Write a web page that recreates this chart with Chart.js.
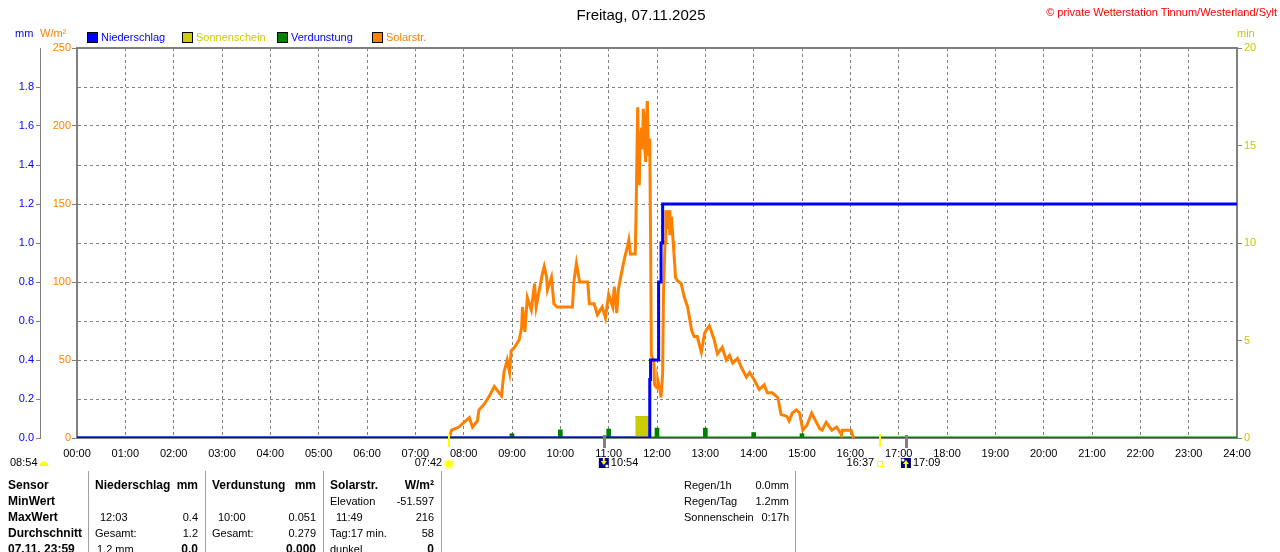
<!DOCTYPE html>
<html><head><meta charset="utf-8">
<script src="https://cdn.jsdelivr.net/npm/chart.js@4.4.1/dist/chart.umd.min.js"></script>
<style>
html,body{margin:0;padding:0;background:#fff;}
#wrap{position:relative;width:1280px;height:552px;overflow:hidden;font-family:"Liberation Sans",Arial,sans-serif;color:#000;}
#c{position:absolute;left:0;top:0;}
.t{position:absolute;white-space:nowrap;font-size:11px;line-height:14px;}
.b{font-weight:bold;font-size:12px;}
.vl{position:absolute;width:1px;background:#a0a0a0;top:471px;height:81px;}
.sq{position:absolute;width:9px;height:9px;border:1px solid #000;top:32px;}
</style></head><body>
<div id="wrap">
<canvas id="c" width="1280" height="552"></canvas>

<div class="t" style="left:541px;width:200px;text-align:center;top:6px;font-size:15px;line-height:17px;">Freitag, 07.11.2025</div>
<div class="t" style="right:3px;top:5px;color:#ff0000;">© private Wetterstation Tinnum/Westerland/Sylt</div>

<div class="t" style="left:15px;top:26px;color:#0000ff;">mm</div>
<div class="t" style="left:40px;top:26px;color:#ff8000;">W/m²</div>
<div class="t" style="left:1237px;top:26px;color:#c8c800;">min</div>

<div class="sq" style="left:87px;background:#0000ff;"></div>
<div class="t" style="left:101px;top:30px;color:#0000ff;">Niederschlag</div>
<div class="sq" style="left:182px;background:#cccc00;"></div>
<div class="t" style="left:196px;top:30px;color:#cccc00;">Sonnenschein</div>
<div class="sq" style="left:277px;background:#008000;"></div>
<div class="t" style="left:291px;top:30px;color:#0000ff;">Verdunstung</div>
<div class="sq" style="left:372px;background:#ff8000;"></div>
<div class="t" style="left:386px;top:30px;color:#ff8000;">Solarstr.</div>

<div class="vl" style="left:88px;"></div>
<div class="vl" style="left:205px;"></div>
<div class="vl" style="left:323px;"></div>
<div class="vl" style="left:441px;"></div>
<div class="vl" style="left:795px;"></div>

<div class="t b" style="left:8px;top:478px;">Sensor</div>
<div class="t b" style="left:8px;top:494px;">MinWert</div>
<div class="t b" style="left:8px;top:510px;">MaxWert</div>
<div class="t b" style="left:8px;top:526px;">Durchschnitt</div>
<div class="t b" style="left:8px;top:542px;">07.11. 23:59</div>

<div class="t b" style="left:95px;top:478px;">Niederschlag</div>
<div class="t b" style="right:1082px;top:478px;">mm</div>
<div class="t" style="left:100px;top:510px;">12:03</div>
<div class="t" style="right:1082px;top:510px;">0.4</div>
<div class="t" style="left:95px;top:526px;">Gesamt:</div>
<div class="t" style="right:1082px;top:526px;">1.2</div>
<div class="t" style="left:97px;top:542px;">1.2 mm</div>
<div class="t b" style="right:1082px;top:542px;">0.0</div>

<div class="t b" style="left:212px;top:478px;">Verdunstung</div>
<div class="t b" style="right:964px;top:478px;">mm</div>
<div class="t" style="left:218px;top:510px;">10:00</div>
<div class="t" style="right:964px;top:510px;">0.051</div>
<div class="t" style="left:212px;top:526px;">Gesamt:</div>
<div class="t" style="right:964px;top:526px;">0.279</div>
<div class="t b" style="right:964px;top:542px;">0.000</div>

<div class="t b" style="left:330px;top:478px;">Solarstr.</div>
<div class="t b" style="right:846px;top:478px;">W/m²</div>
<div class="t" style="left:330px;top:494px;">Elevation</div>
<div class="t" style="right:846px;top:494px;">-51.597</div>
<div class="t" style="left:336px;top:510px;">11:49</div>
<div class="t" style="right:846px;top:510px;">216</div>
<div class="t" style="left:330px;top:526px;">Tag:17 min.</div>
<div class="t" style="right:846px;top:526px;">58</div>
<div class="t" style="left:330px;top:542px;">dunkel</div>
<div class="t b" style="right:846px;top:542px;">0</div>

<div class="t" style="left:684px;top:478px;">Regen/1h</div>
<div class="t" style="right:491px;top:478px;">0.0mm</div>
<div class="t" style="left:684px;top:494px;">Regen/Tag</div>
<div class="t" style="right:491px;top:494px;">1.2mm</div>
<div class="t" style="left:684px;top:510px;">Sonnenschein</div>
<div class="t" style="right:491px;top:510px;">0:17h</div>
</div>

<script>
// ---- data ----
const hourLabels = ['00:00','01:00','02:00','03:00','04:00','05:00','06:00','07:00','08:00','09:00','10:00','11:00','12:00','13:00','14:00','15:00','16:00','17:00','18:00','19:00','20:00','21:00','22:00','23:00','24:00'];

// Solar radiation (minutes of day, W/m²)
const solarTime = [462,465,474,487,491,497,499,506,512,518,527,530,534,537,539,543,549,552,553,556,559,564,568,570,574,578,580,583,584,589,592,596,600,615,617,620,624,634,636,642,646,652,656,660,665,667,670,672,676,680,683,685,687,693,694,696,697,698,699,701,702,703,705,706,707,708,709,710,711,712,713,716,717,720,721,724,725,727,728,730,731,733,735,736,738,740,741,743,745,750,754,758,763,766,770,775,779,781,785,791,795,801,806,810,814,820,825,831,835,841,847,853,857,863,870,874,881,884,888,893,897,901,906,912,915,922,925,930,937,943,949,950,961,964];
const solarValue = [0,5,7,13,7,11,18,22,27,33,27,42,50,42,56,58,63,71,84,68,90,82,99,84,95,106,110,103,95,103,86,84,84,84,101,112,100,100,86,86,79,84,77,92,84,97,80,95,106,116,122,127,118,118,143,212,175,162,190,199,185,211,185,177,205,216,190,181,192,130,53,49,34,32,37,30,26,41,92,126,146,134,146,130,142,126,119,103,101,99,90,84,69,65,65,55,67,69,72,63,54,58,50,53,48,51,45,39,42,37,31,34,29,29,26,15,14,11,16,18,16,5,8,16,13,6,5,10,5,7,2,5,5,0];

// Precipitation, cumulative (minutes, mm)
const rainTime  = [0, 711, 712, 722, 725, 727, 1440];
const rainTotal = [0, 0.3, 0.4, 0.8, 1.0, 1.2, 1.2];

// Evaporation per hour (minutes, mm)
const evapTime  = [540, 600, 660, 720, 780, 840, 900];
const evapValue = [0.022, 0.042, 0.046, 0.051, 0.051, 0.028, 0.022];
const evapBaseTime  = [0, 1440];
const evapBaseValue = [0, 0];

// Sunshine (minutes, min)
const sunTime  = [693, 710];
const sunValue = [1.1, 1.1];

// Axis ticks
const mmMax = 2.0, mmStep = 0.2;
const wMax = 250, wStep = 50;
const minMax = 20, minStep = 5;

// Astronomy (minutes of day)
const sunriseMin = 462, sunsetMin = 997, moonriseMin = 654, moonsetMin = 1029;
const dayLengthLabel = '08:54';
const sunriseLabel = '07:42', sunsetLabel = '16:37', moonriseLabel = '10:54', moonsetLabel = '17:09';

const pts = (xs, ys) => xs.map((x, i) => ({x, y: ys[i]}));
const FONT = '"Liberation Sans", Arial, sans-serif';
const GRID = '#808080';

const framePlugin = {
  id: 'frame',
  beforeDatasetsDraw(chart) {
    const {ctx, chartArea: a} = chart;
    ctx.save();
    ctx.strokeStyle = GRID; ctx.lineWidth = 2;
    ctx.strokeRect(a.left, a.top, a.right - a.left, a.bottom - a.top);
    ctx.restore();
  }
};

function moonIcon(ctx, cx, cy, up) {
  ctx.fillStyle = '#000080';
  ctx.fillRect(cx - 5, cy - 5, 10, 10);
  ctx.fillStyle = '#ffff00';
  ctx.beginPath();
  if (up) { ctx.moveTo(cx, cy - 3); ctx.lineTo(cx - 3, cy + 1); ctx.lineTo(cx + 3, cy + 1); }
  else { ctx.moveTo(cx, cy + 2); ctx.lineTo(cx - 3, cy - 2); ctx.lineTo(cx + 3, cy - 2); }
  ctx.closePath(); ctx.fill();
  ctx.fillRect(cx - 1, up ? cy : cy - 5, 2, 5);
  ctx.fillStyle = '#ffffff';
  ctx.beginPath(); ctx.arc(up ? cx - 3 : cx + 3, up ? cy - 3 : cy + 3, 1.6, 0, Math.PI * 2); ctx.fill();
}

const astroPlugin = {
  id: 'astro',
  afterDraw(chart) {
    const {ctx, chartArea: a} = chart;
    const xs = chart.scales.x;
    const b = a.bottom;
    const ty = b + 27;
    ctx.save();
    [sunriseMin, sunsetMin].forEach(t => {
      const x = Math.round(xs.getPixelForValue(t));
      ctx.fillStyle = '#ffff00'; ctx.fillRect(x - 1, b - 4, 2, 13);
    });
    [moonriseMin, moonsetMin].forEach(t => {
      const x = Math.round(xs.getPixelForValue(t));
      ctx.fillStyle = '#808080'; ctx.fillRect(x - 1, b - 3, 3, 13);
    });
    ctx.font = '11px ' + FONT;
    ctx.textBaseline = 'middle';
    ctx.fillStyle = '#000';
    ctx.textAlign = 'left';
    ctx.fillText(dayLengthLabel, 10, ty - 2);
    ctx.fillStyle = '#ffff00';
    ctx.beginPath(); ctx.arc(44, ty + 1, 4.5, Math.PI, 0); ctx.closePath(); ctx.fill();
    let x = xs.getPixelForValue(sunriseMin);
    ctx.fillStyle = '#000'; ctx.textAlign = 'right';
    ctx.fillText(sunriseLabel, x - 7, ty - 2);
    ctx.fillStyle = '#ffffb0';
    ctx.beginPath(); ctx.arc(x, ty - 1, 5.5, 0, Math.PI * 2); ctx.fill();
    ctx.fillStyle = '#ffff00';
    ctx.beginPath(); ctx.arc(x, ty - 1, 3.5, 0, Math.PI * 2); ctx.fill();
    x = xs.getPixelForValue(moonriseMin);
    moonIcon(ctx, x, ty - 2, false);
    ctx.fillStyle = '#000'; ctx.textAlign = 'left';
    ctx.fillText(moonriseLabel, x + 7, ty - 2);
    x = xs.getPixelForValue(sunsetMin);
    ctx.textAlign = 'right';
    ctx.fillText(sunsetLabel, x - 6, ty - 2);
    ctx.strokeStyle = '#ffff00'; ctx.lineWidth = 1;
    ctx.strokeRect(Math.round(x) - 2.5, ty - 3.5, 5, 5);
    x = xs.getPixelForValue(moonsetMin);
    moonIcon(ctx, x, ty - 2, true);
    ctx.fillStyle = '#000'; ctx.textAlign = 'left';
    ctx.fillText(moonsetLabel, x + 7, ty - 2);
    ctx.restore();
  }
};

new Chart(document.getElementById('c'), {
  data: {
    datasets: [
      { type: 'line', label: 'Niederschlag', data: pts(rainTime, rainTotal), yAxisID: 'yMM',
        borderColor: '#0000ff', borderWidth: 3, pointRadius: 0, stepped: 'before', order: 0 },
      { type: 'line', label: 'Solarstr.', data: pts(solarTime, solarValue), yAxisID: 'yW',
        borderColor: '#ff8000', borderWidth: 3, pointRadius: 0, tension: 0, order: 1 },
      { type: 'line', label: 'Sonnenschein', data: pts(sunTime, sunValue), yAxisID: 'yMin',
        borderColor: '#c4c400', borderWidth: 1, backgroundColor: '#cccc00', fill: 'origin', pointRadius: 0, order: 2 },
      { type: 'bar', label: 'Verdunstung', data: pts(evapTime, evapValue), yAxisID: 'yMM',
        backgroundColor: '#008000', barThickness: 4, order: 3 },
      { type: 'line', label: 'Verdunstung (Basis)', data: pts(evapBaseTime, evapBaseValue), yAxisID: 'yMM',
        borderColor: '#008000', borderWidth: 3, pointRadius: 0, order: 4 }
    ]
  },
  options: {
    responsive: false,
    animation: false,
    devicePixelRatio: 1,
    layout: { padding: { top: 48, bottom: 94, left: 0, right: 0 } },
    plugins: { legend: { display: false }, tooltip: { enabled: false } },
    scales: {
      x: {
        type: 'linear', min: 0, max: 1440, offset: false,
        ticks: { stepSize: 60, autoSkip: false, maxRotation: 0, color: '#000', padding: 9,
          font: { family: FONT, size: 11 }, callback: v => hourLabels[Math.round(v / 60)] },
        grid: { color: GRID, lineWidth: 1, drawTicks: false, offset: false },
        border: { display: false, dash: [3, 3] },
        afterFit(s) { s.height = 20; }
      },
      yMM: {
        type: 'linear', position: 'left', weight: 1, min: 0, max: mmMax,
        ticks: { stepSize: mmStep, color: '#0000ff', padding: 2, font: { family: FONT, size: 11 },
          callback: v => (v > mmMax - 0.01 ? null : v.toFixed(1)) },
        grid: { color: GRID, lineWidth: 1, drawOnChartArea: true, drawTicks: true, tickLength: 4, tickColor: GRID },
        border: { display: true, color: GRID, width: 1, dash: [3, 3] },
        afterFit(s) { s.width = 40; }
      },
      yW: {
        type: 'linear', position: 'left', weight: 0, min: 0, max: wMax,
        ticks: { stepSize: wStep, color: '#ff8000', padding: 1, font: { family: FONT, size: 11 } },
        grid: { drawOnChartArea: false, drawTicks: true, tickLength: 5, color: GRID },
        border: { display: false },
        afterFit(s) { s.width = 37; }
      },
      yMin: {
        type: 'linear', position: 'right', min: 0, max: minMax,
        ticks: { stepSize: minStep, color: '#c8c800', padding: 2, font: { family: FONT, size: 11 } },
        grid: { drawOnChartArea: false, drawTicks: true, tickLength: 5, color: GRID },
        border: { display: false },
        afterFit(s) { s.width = 43; }
      }
    }
  },
  plugins: [framePlugin, astroPlugin]
});
</script>
</body></html>
